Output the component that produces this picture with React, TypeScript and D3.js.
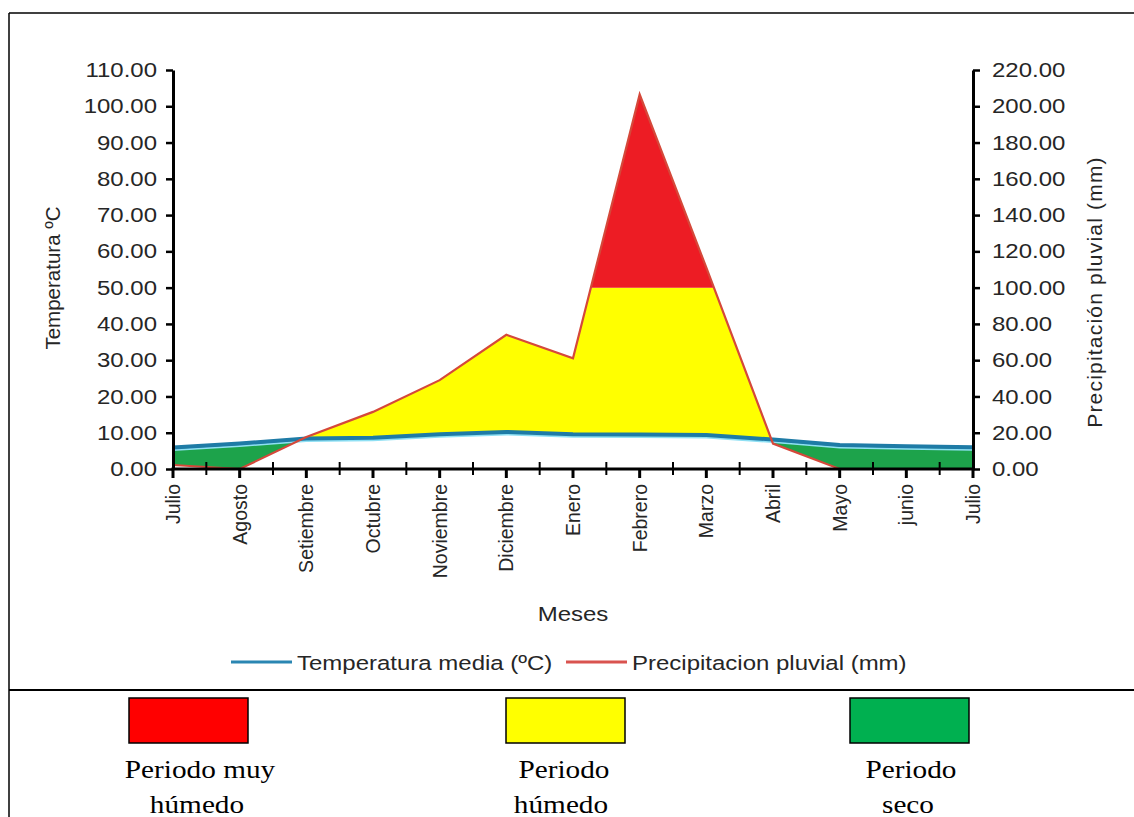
import * as d3 from "d3";
import { useEffect, useRef } from "react";

const MONTHS = [
  "Julio",
  "Agosto",
  "Setiembre",
  "Octubre",
  "Noviembre",
  "Diciembre",
  "Enero",
  "Febrero",
  "Marzo",
  "Abril",
  "Mayo",
  "junio",
  "Julio",
];
// temperatura media (°C), eje izquierdo
const TEMPERATURE = [5.9, 7.0, 8.4, 8.6, 9.6, 10.2, 9.6, 9.5, 9.4, 8.1, 6.6, 6.3, 6.0];
// precipitacion pluvial (mm), eje derecho
const PRECIPITATION = [2.2, 0, 17.6, 31.5, 49, 74, 61, 206.5, 111, 14, 0, 0, 0];

const TEMP_TICKS = [0, 10, 20, 30, 40, 50, 60, 70, 80, 90, 100, 110];
const PREC_TICKS = [0, 20, 40, 60, 80, 100, 120, 140, 160, 180, 200, 220];
const VERY_WET_LIMIT = 100; // mm

const PERIOD_LABELS = [["Periodo muy", "húmedo"], ["Periodo", "húmedo"], ["Periodo", "seco"]];
const PERIOD_COLORS = ["#FF0000", "#FFFF00", "#00B050"];

const WIDTH = 1134;
const HEIGHT = 817;
const FONT = "'Liberation Sans', Arial, sans-serif";
const SERIF = "'Liberation Serif', 'Times New Roman', serif";
const TEXT = "#262626";
// the original picture is a bit wider than it is tall, so horizontal text is widened
const STRETCH = 1.17;

type TextSel = d3.Selection<any, any, any, any>;

const stretch = (sel: TextSel, k = STRETCH) => {
  sel.each(function () {
    const t = this as SVGTextElement;
    const len = t.getComputedTextLength();
    t.setAttribute("textLength", String(len * k));
    t.setAttribute("lengthAdjust", "spacingAndGlyphs");
  });
};

const App = () => {
  const svgRef = useRef<SVGSVGElement>(null);

  useEffect(() => {
    if (!svgRef.current) return;
    const svg = d3.select(svgRef.current);
    svg.selectAll("*").remove();

    const left = 173;
    const right = 973;
    const top = 70;
    const bottom = 469;
    const idx = MONTHS.map((_, i) => i);

    const x = d3.scaleLinear().domain([0, MONTHS.length - 1]).range([left, right]);
    const yT = d3.scaleLinear().domain([0, 110]).range([bottom, top]);
    const yP = d3.scaleLinear().domain([0, 220]).range([bottom, top]);

    // frame
    svg.append("line").attr("x1", 9).attr("x2", WIDTH).attr("y1", 13).attr("y2", 13)
      .attr("stroke", "#000").attr("stroke-width", 1.5);
    svg.append("line").attr("x1", 9).attr("x2", 9).attr("y1", 13).attr("y2", HEIGHT)
      .attr("stroke", "#000").attr("stroke-width", 1.5);
    svg.append("line").attr("x1", 9).attr("x2", WIDTH).attr("y1", 690).attr("y2", 690)
      .attr("stroke", "#000").attr("stroke-width", 2);

    const defs = svg.append("defs");
    const belowT = d3.area<number>()
      .x((i) => x(i))
      .y0((i) => yT(TEMPERATURE[i]))
      .y1(bottom + 20);
    const aboveT = d3.area<number>()
      .x((i) => x(i))
      .y0((i) => yT(TEMPERATURE[i]))
      .y1(top - 20);
    defs.append("clipPath").attr("id", "below-t").append("path").attr("d", belowT(idx));
    defs.append("clipPath").attr("id", "above-t").append("path").attr("d", aboveT(idx));
    defs.append("clipPath").attr("id", "above-lim").append("rect")
      .attr("x", left).attr("width", right - left)
      .attr("y", top - 20).attr("height", yP(VERY_WET_LIMIT) - top + 20);
    defs.append("clipPath").attr("id", "below-lim").append("rect")
      .attr("x", left).attr("width", right - left)
      .attr("y", yP(VERY_WET_LIMIT)).attr("height", bottom + 20 - yP(VERY_WET_LIMIT));

    const band = d3.area<number>()
      .x((i) => x(i))
      .y0((i) => yT(TEMPERATURE[i]))
      .y1((i) => yP(PRECIPITATION[i]));

    // periodo seco
    svg.append("path").attr("d", band(idx)).attr("fill", "#1DA34B")
      .attr("clip-path", "url(#below-t)");
    // periodo humedo
    svg.append("g").attr("clip-path", "url(#above-t)")
      .append("path").attr("d", band(idx)).attr("fill", "#FFFF00")
      .attr("clip-path", "url(#below-lim)");
    // periodo muy humedo
    svg.append("g").attr("clip-path", "url(#above-t)")
      .append("path").attr("d", band(idx)).attr("fill", "#ED1C24")
      .attr("clip-path", "url(#above-lim)");

    const tempLine = d3.line<number>().x((i) => x(i)).y((i) => yT(TEMPERATURE[i]));
    const precLine = d3.line<number>().x((i) => x(i)).y((i) => yP(PRECIPITATION[i]));

    svg.append("path").attr("d", tempLine(idx)).attr("fill", "none")
      .attr("stroke", "#8FE0F4").attr("stroke-width", 2)
      .attr("transform", "translate(0,2.5)");
    svg.append("path").attr("d", tempLine(idx)).attr("fill", "none")
      .attr("stroke", "#1E7BA6").attr("stroke-width", 4);
    svg.append("path").attr("d", precLine(idx)).attr("fill", "none")
      .attr("stroke", "#D5483A").attr("stroke-width", 2.2);

    // y axes
    const fmt = d3.format(".2f");
    const leftAxis = svg.append("g")
      .attr("transform", `translate(${left},0)`)
      .call(d3.axisLeft(yT).tickValues(TEMP_TICKS).tickFormat((d) => fmt(d as number))
        .tickSize(7).tickSizeOuter(0).tickPadding(9));
    const rightAxis = svg.append("g")
      .attr("transform", `translate(${right},0)`)
      .call(d3.axisRight(yP).tickValues(PREC_TICKS).tickFormat((d) => fmt(d as number))
        .tickSize(7).tickSizeOuter(0).tickPadding(12));
    [leftAxis, rightAxis].forEach((ax) => {
      ax.select(".domain").attr("stroke", "#000").attr("stroke-width", 3);
      ax.selectAll(".tick line").attr("stroke", "#000").attr("stroke-width", 2.5);
      const labels = ax.selectAll(".tick text")
        .attr("fill", TEXT)
        .style("font-family", FONT)
        .style("font-size", "20.5px");
      stretch(labels);
    });

    // x axis
    const xAxis = svg.append("g");
    xAxis.append("line").attr("x1", left - 1.5).attr("x2", right + 1.5)
      .attr("y1", bottom).attr("y2", bottom)
      .attr("stroke", "#000").attr("stroke-width", 3);
    xAxis.selectAll(".major").data(idx).enter().append("line")
      .attr("x1", (i) => x(i)).attr("x2", (i) => x(i))
      .attr("y1", bottom).attr("y2", bottom + 9)
      .attr("stroke", "#000").attr("stroke-width", 3);
    xAxis.selectAll(".minor").data(idx.slice(0, -1)).enter().append("line")
      .attr("x1", (i) => x(i + 0.5)).attr("x2", (i) => x(i + 0.5))
      .attr("y1", bottom - 7).attr("y2", bottom + 6)
      .attr("stroke", "#000").attr("stroke-width", 2);
    xAxis.selectAll("text").data(idx).enter().append("text")
      .attr("transform", (i) => `translate(${x(i) + 7},${bottom + 15}) rotate(-90)`)
      .attr("text-anchor", "end")
      .attr("fill", TEXT)
      .style("font-family", FONT)
      .style("font-size", "19.5px")
      .text((i) => MONTHS[i]);

    // axis titles
    svg.append("text")
      .attr("transform", "translate(60,278) rotate(-90)")
      .attr("text-anchor", "middle").attr("fill", TEXT)
      .style("font-family", FONT).style("font-size", "20.5px")
      .text("Temperatura ºC");
    svg.append("text")
      .attr("transform", "translate(1102,292) rotate(-90)")
      .attr("text-anchor", "middle").attr("fill", TEXT)
      .style("font-family", FONT).style("font-size", "21px").style("letter-spacing", "1.2px")
      .text("Precipitación pluvial (mm)");
    const meses = svg.append("text")
      .attr("x", 573).attr("y", 621)
      .attr("text-anchor", "middle").attr("fill", TEXT)
      .style("font-family", FONT).style("font-size", "20.5px")
      .text("Meses");
    stretch(meses);

    // legend
    const legend = [
      { label: "Temperatura media (ºC)", color: "#2A86B2", x: 231 },
      { label: "Precipitacion pluvial (mm)", color: "#D9534F", x: 566 },
    ];
    const lg = svg.append("g").selectAll("g").data(legend).enter().append("g")
      .attr("transform", (d) => `translate(${d.x},662)`);
    lg.append("line").attr("x1", 0).attr("x2", 61).attr("y1", 0).attr("y2", 0)
      .attr("stroke", (d) => d.color).attr("stroke-width", 3);
    const lgText = lg.append("text").attr("x", 66).attr("y", 7.5).attr("fill", TEXT)
      .style("font-family", FONT).style("font-size", "20.5px")
      .text((d) => d.label);
    stretch(lgText);

    // period boxes
    const boxLeft = [129, 506, 850];
    const centers = [200, 564, 911];
    const boxes = svg.append("g").selectAll("g").data([0, 1, 2]).enter().append("g");
    boxes.append("rect")
      .attr("x", (i) => boxLeft[i])
      .attr("y", 698).attr("width", 119).attr("height", 45)
      .attr("fill", (i) => PERIOD_COLORS[i])
      .attr("stroke", "#000").attr("stroke-width", 1.5);
    boxes.each(function (i) {
      const g = d3.select(this);
      PERIOD_LABELS[i].forEach((line, k) => {
        const t = g.append("text")
          .attr("x", centers[i] + (k === 1 ? -3 : 0))
          .attr("y", 778 + k * 35)
          .attr("text-anchor", "middle")
          .attr("fill", "#000")
          .style("font-family", SERIF)
          .style("font-size", "25px")
          .text(line);
        stretch(t);
      });
    });
  }, []);

  return (
    <div style={{ position: "absolute", left: 0, top: 0, background: "#fff" }}>
      <svg ref={svgRef} width={WIDTH} height={HEIGHT} />
    </div>
  );
};

export default App;
